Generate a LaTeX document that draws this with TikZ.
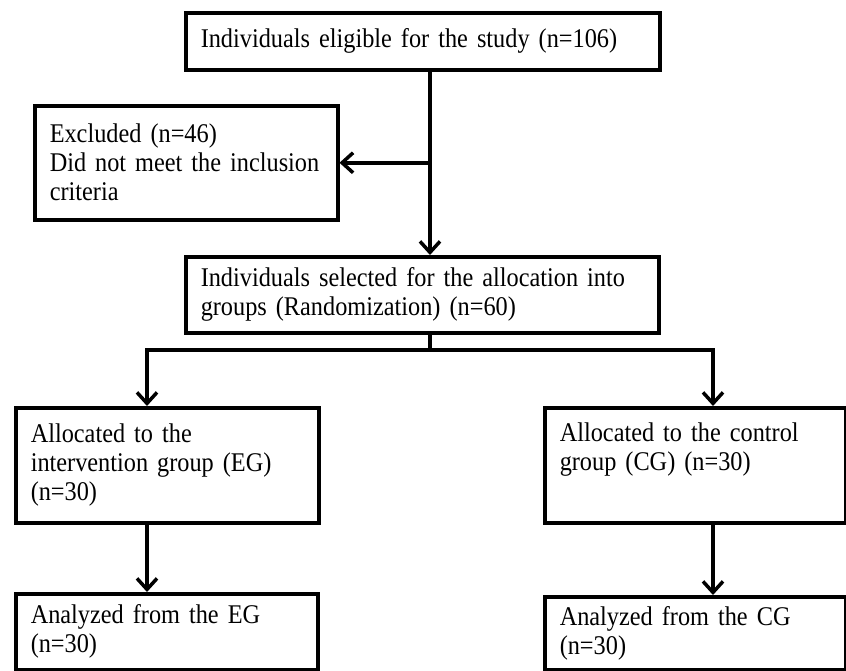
\documentclass[tikz,border=0pt]{standalone}
\usepackage{fontspec}
\setmainfont[FakeStretch=0.9, WordSpace=0.8]{Liberation Serif}
\usepackage{tikz}
\usetikzlibrary{positioning,arrows.meta}

\begin{document}
\begin{tikzpicture}[
    x=1pt, y=-1pt,
    box/.style={rectangle, draw, line width=3.5pt, anchor=north west, align=left, inner xsep=15pt, inner ysep=0pt, font=\fontsize{27}{29}\selectfont, execute at begin node={\hyphenpenalty=10000\relax}},
    link/.style={line width=3.5pt},
    arrow/.style={link, -{Straight Barb[length=11pt, width=20pt]}}
]
\useasboundingbox (0,0) rectangle (846,670);
% Enrollment
\node[box, minimum width=474pt, minimum height=57pt, text width=444pt] (study) at (184,11) {Individuals eligible for the study (n=106)};
\node[box, minimum width=303pt, minimum height=114pt, text width=273pt] (excl) at (33,104) {Excluded (n=46)\\Did not meet the inclusion\\criteria};
\node[box, minimum width=473pt, minimum height=76pt, text width=443pt] (alloc) at (184,255) {Individuals selected for the allocation into\\groups (Randomization) (n=60)};
% Groups
\node[box, minimum width=303pt, minimum height=115pt, text width=273pt] (eg) at (14,406) {Allocated to the\\intervention group (EG)\\(n=30)};
\node[box, minimum width=301pt, minimum height=115pt, text width=271pt] (cg) at (543,406) {Allocated to the control\\group (CG) (n=30)\\\strut};
% Analysis
\node[box, minimum width=302pt, minimum height=76pt, text width=272pt] (egan) at (14,592) {Analyzed from the EG\\(n=30)};
\node[box, minimum width=301pt, minimum height=73pt, text width=271pt] (cgan) at (543,595) {Analyzed from the CG\\(n=30)};
% Forks
\coordinate (fork) at (430,350);
\coordinate (egfork) at (147,350);
\coordinate (cgfork) at (713,350);
% Arrows
\draw[arrow] (study.south -| fork) -- (alloc.north -| fork);
\draw[arrow] (fork |- excl.east) -- (excl.east);
\draw[link] (alloc.south -| fork) -- (fork);
\draw[arrow] (fork) -- (egfork) -- (egfork |- eg.north);
\draw[arrow] (fork) -- (cgfork) -- (cgfork |- cg.north);
\draw[arrow] (egfork |- eg.south) -- (egfork |- egan.north);
\draw[arrow] (cgfork |- cg.south) -- (cgfork |- cgan.north);
\end{tikzpicture}
\end{document}
